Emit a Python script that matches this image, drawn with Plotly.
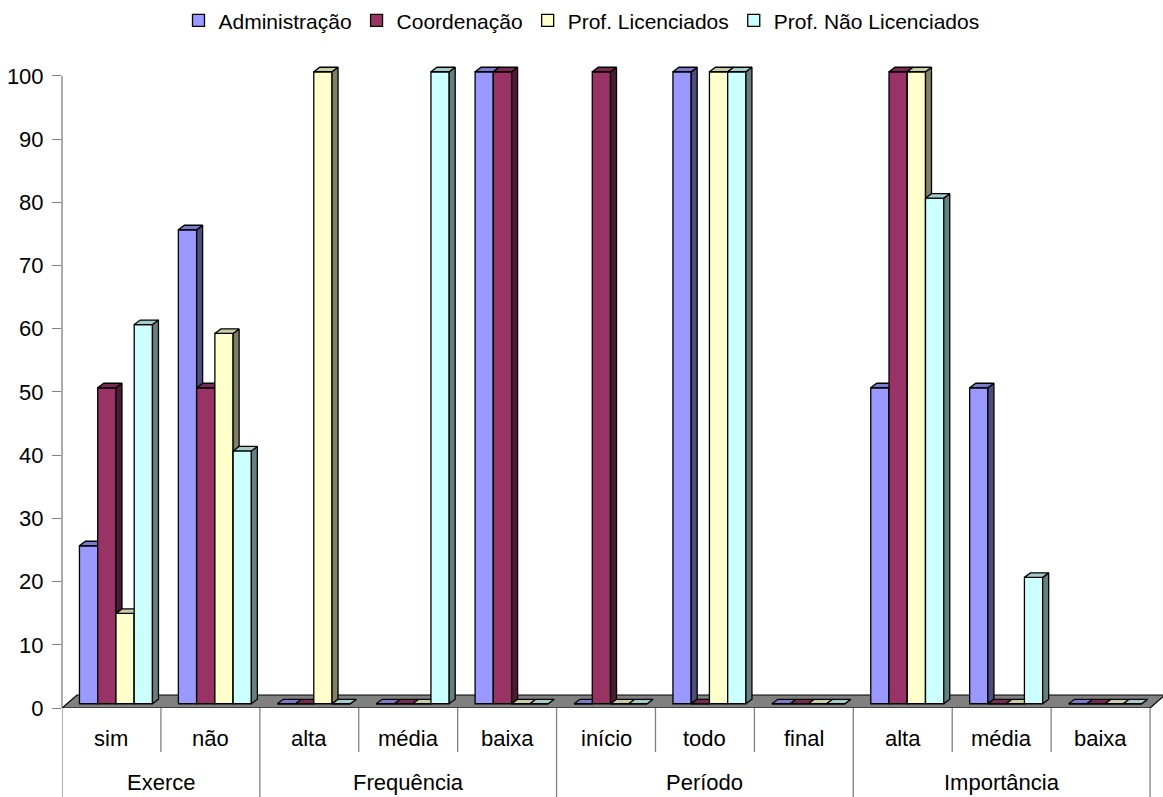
import plotly.graph_objects as go

# ---------------- data ----------------
groups = ["Exerce", "Frequência", "Período", "Importância"]
group_sizes = [2, 3, 3, 3]
subcategories = ["sim", "não", "alta", "média", "baixa", "início", "todo", "final", "alta", "média", "baixa"]

series_names = ["Administração", "Coordenação", "Prof. Licenciados", "Prof. Não Licenciados"]
administracao = [25, 75, 0, 0, 100, 0, 100, 0, 50, 50, 0]
coordenacao = [50, 50, 0, 0, 100, 100, 0, 0, 100, 0, 0]
prof_licenciados = [14.3, 58.6, 100, 0, 0, 0, 100, 0, 100, 0, 0]
prof_nao_licenciados = [60, 40, 0, 100, 0, 0, 100, 0, 80, 20, 0]
series_values = [administracao, coordenacao, prof_licenciados, prof_nao_licenciados]

y_ticks = list(range(0, 101, 10))

# ---------------- styles ----------------
front_colors = ["#9999FF", "#993366", "#FFFFCC", "#CCFFFF"]
top_colors = ["#7A7ACC", "#7A2952", "#CCCCA3", "#A3CCCC"]
side_colors = ["#4D4D80", "#4D1A33", "#808066", "#668080"]
FONT = "Liberation Sans, Arial, sans-serif"
FS = 22

n = len(subcategories)
xpos = list(range(n))
X_MIN, X_MAX = -0.5, 10.631
Y_MIN, Y_MAX = 0, 104.9

bar_w = 0.1845
group_shift = 0.0455
base = 0.67
ddx, ddy = 0.0607, 0.71      # bar depth in data units
fdx, fdy = 0.1517, 2.06      # floor depth in data units

fig = go.Figure()

for k, (name, vals) in enumerate(zip(series_names, series_values)):
    xa = "x" if k == 0 else f"x{k + 1}"
    off = -2 * bar_w + k * bar_w + group_shift
    fig.add_trace(go.Bar(
        x=xpos, y=vals, base=base, offset=off, width=bar_w, name=name,
        xaxis=xa, yaxis="y",
        marker=dict(color=front_colors[k], line=dict(color="black", width=1.3)),
        hoverinfo="skip",
    ))
    sx, sy, tx, ty = [], [], [], []
    for i, v in zip(xpos, vals):
        xl = i + off
        xr = xl + bar_w
        b = base
        t = base + v
        sx += [xr, xr + ddx, xr + ddx, xr, xr, None]
        sy += [b, b + ddy, t + ddy, t, b, None]
        tx += [xl, xl + ddx, xr + ddx, xr, xl, None]
        ty += [t, t + ddy, t + ddy, t, t, None]
    fig.add_trace(go.Scatter(
        x=sx, y=sy, xaxis=xa, yaxis="y", mode="lines", fill="toself",
        fillcolor=side_colors[k], line=dict(color="black", width=1.3),
        showlegend=False, hoverinfo="skip",
    ))
    fig.add_trace(go.Scatter(
        x=tx, y=ty, xaxis=xa, yaxis="y", mode="lines", fill="toself",
        fillcolor=top_colors[k], line=dict(color="black", width=1.3),
        showlegend=False, hoverinfo="skip",
    ))

shapes = []
# floor
shapes.append(dict(
    type="path", xref="x", yref="y", layer="below",
    path=f"M {X_MIN},0 L 10.5,0 L {10.5 + fdx},{fdy} L {X_MIN + fdx},{fdy} Z",
    fillcolor="#808080", line=dict(color="black", width=1.2),
))
# y axis line
shapes.append(dict(type="line", xref="paper", yref="y", x0=0, x1=0, y0=0, y1=100,
                   line=dict(color="#808080", width=1.3)))

# category dividers
plot_h = 797 - 45 - 89
short_y = -44 / plot_h
long_y = -89 / plot_h
boundaries = [-0.5]
acc = -0.5
for s in group_sizes:
    acc += s
    boundaries.append(acc)
for j in range(n + 1):
    xb = j - 0.5
    y1 = long_y if xb in boundaries else short_y
    shapes.append(dict(type="line", xref="x", yref="paper", x0=xb, x1=xb, y0=0, y1=y1,
                       line=dict(color="#808080", width=1.3)))

annotations = []
for i, lab in enumerate(subcategories):
    annotations.append(dict(x=i, y=0, xref="x", yref="paper", text=lab, showarrow=False,
                            yanchor="middle", yshift=-30, font=dict(family=FONT, size=FS, color="black")))
start = 0
for g, s in zip(groups, group_sizes):
    c = start + (s - 1) / 2
    annotations.append(dict(x=c, y=0, xref="x", yref="paper", text=g, showarrow=False,
                            yanchor="middle", yshift=-74, font=dict(family=FONT, size=FS, color="black")))
    start += s

layout = dict(
    width=1163, height=797,
    margin=dict(l=62, r=0, t=45, b=89),
    paper_bgcolor="white", plot_bgcolor="white",
    barmode="overlay",
    font=dict(family=FONT, size=FS, color="black"),
    xaxis=dict(range=[X_MIN, X_MAX], showgrid=False, zeroline=False, showline=False,
               showticklabels=False, ticks="", fixedrange=True),
    yaxis=dict(range=[Y_MIN, Y_MAX], tickvals=y_ticks, showgrid=False, zeroline=False,
               showline=False, ticks="outside", ticklen=9, tickcolor="#808080", tickwidth=1.3,
               tickfont=dict(family=FONT, size=FS, color="black"), ticklabelstandoff=4,
               fixedrange=True),
    shapes=shapes,
    annotations=annotations,
    showlegend=True,
    legend=dict(orientation="h", xref="container", yref="container", x=0.5, y=0.974,
                xanchor="center", yanchor="middle", font=dict(family=FONT, size=21, color="black"),
                traceorder="normal", bgcolor="rgba(0,0,0,0)", itemclick=False, itemdoubleclick=False),
)
for k in range(1, 4):
    layout[f"xaxis{k + 1}"] = dict(overlaying="x", range=[X_MIN, X_MAX], visible=False, fixedrange=True)

fig.update_layout(**layout)
fig.write_html("out.html", config={"displayModeBar": False},
               post_script="document.body.style.margin='0px';document.body.style.padding='0px';")
